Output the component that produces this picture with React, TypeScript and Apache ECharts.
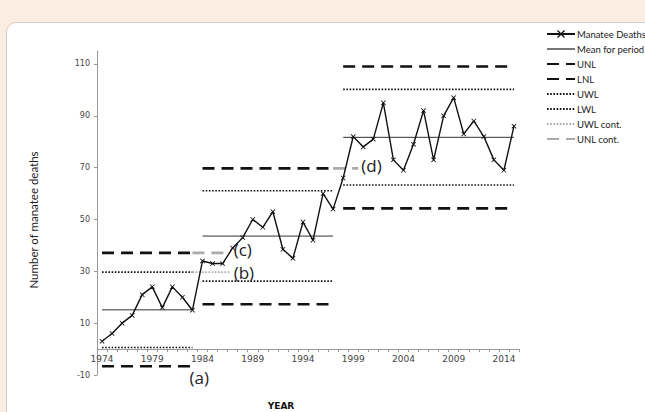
import React, { useEffect, useRef } from 'react';
import * as echarts from 'echarts';

const years = [
  '1974', '1975', '1976', '1977', '1978', '1979', '1980', '1981', '1982', '1983',
  '1984', '1985', '1986', '1987', '1988', '1989', '1990', '1991', '1992', '1993',
  '1994', '1995', '1996', '1997', '1998', '1999', '2000', '2001', '2002', '2003',
  '2004', '2005', '2006', '2007', '2008', '2009', '2010', '2011', '2012', '2013',
  '2014', '2015',
];
const deaths = [
  3, 6, 10, 13, 21, 24, 16, 24, 20, 15,
  34, 33, 33, 39, 43, 50, 47, 53, 38.5, 35, 49, 42, 60, 54,
  66, 82, 78, 81, 95, 73, 69, 79, 92, 73, 90, 97, 83, 88, 82, 73, 69, 86,
];
const periodStart = [1974, 1984, 1998];
const periodEnd = [1983, 1997, 2015];
const meanVals = [15.2, 43.6, 81.7];
const unlVals = [37.1, 69.7, 109];
const lnlVals = [-6.6, 17.3, 54.3];
const uwlVals = [29.7, 61.1, 100.2];
const lwlVals = [0.6, 26.2, 63.3];
const uwlContFrom = [1983];
const uwlContTo = [1986.8];
const uwlContVal = [29.7];
const uwlContTag = ['(b)'];
const unlContFrom = [1983, 1997];
const unlContTo = [1986.8, 1999.5];
const unlContVal = [37.1, 69.7];
const unlContTag = ['(c)', '(d)'];
const yMin = -10;
const yMax = 115;
const yTicks = [-10, 10, 30, 50, 70, 90, 110];
const legendNames = ['Manatee Deaths', 'Mean for period', 'UNL', 'LNL', 'UWL', 'LWL', 'UWL cont.', 'UNL cont.'];

const CROSS = 'path://M0,1.2L1.2,0L5,3.8L8.8,0L10,1.2L6.2,5L10,8.8L8.8,10L5,6.2L1.2,10L0,8.8L3.8,5Z';

const annoStyle = { color: '#222', fontSize: 17, lineHeight: 16, fontFamily: 'Open Sans' };

const GRID_TOP = 51;
const GRID_BOTTOM = 37;
const H = 412;

function seg(name: string, x0: number, x1: number, v: number, lineStyle: any, extra: any = {}) {
  return {
    name,
    type: 'line',
    xAxisIndex: 1,
    data: [[x0, v], [x1, v]],
    symbol: 'none',
    silent: true,
    z: 2,
    itemStyle: { color: 'rgba(0,0,0,0)', borderWidth: 0 },
    lineStyle,
    ...extra,
  };
}

export default function App() {
  const ref = useRef<HTMLDivElement>(null);
  useEffect(() => {
    if (!ref.current) return;
    const chart = echarts.init(ref.current, undefined, { renderer: 'svg' });
    const dashStyle = { color: '#111', width: 2.6, type: [12, 7] };
    const dotStyle = { color: '#111', width: 1.6, type: [1.6, 1.6] };
    const meanStyle = { color: '#333', width: 1 };
    const series: any[] = [];
    series.push({
      name: 'Manatee Deaths',
      type: 'line',
      xAxisIndex: 0,
      data: deaths,
      symbol: CROSS,
      symbolSize: 5,
      itemStyle: { color: '#111' },
      lineStyle: { color: '#111', width: 1.4 },
      z: 5,
    });
    for (let i = 0; i < 3; i++) {
      series.push(seg('Mean for period', periodStart[i], periodEnd[i], meanVals[i], i === 0 ? { color: '#777', width: 1.6 } : meanStyle));
      series.push(seg('UNL', periodStart[i], periodEnd[i], unlVals[i], dashStyle));
      series.push(
        seg('LNL', periodStart[i], periodEnd[i], lnlVals[i], dashStyle,
          i === 0 ? { endLabel: { show: true, formatter: '(a)', offset: [-11, 11], ...annoStyle } } : {})
      );
      series.push(seg('UWL', periodStart[i], periodEnd[i], uwlVals[i], dotStyle));
      series.push(seg('LWL', periodStart[i], periodEnd[i], lwlVals[i], dotStyle));
    }
    for (let i = 0; i < uwlContFrom.length; i++) {
      series.push(seg('UWL cont.', uwlContFrom[i], uwlContTo[i], uwlContVal[i], { color: '#aaa', width: 1.6, type: [1.6, 1.6] },
        { endLabel: { show: true, formatter: uwlContTag[i], distance: 3, offset: [0, 0], ...annoStyle } }));
    }
    for (let i = 0; i < unlContFrom.length; i++) {
      series.push(seg('UNL cont.', unlContFrom[i], unlContTo[i], unlContVal[i], { color: '#aaa', width: 2.6, type: [12, 7] },
        { endLabel: { show: true, formatter: unlContTag[i], distance: 3, offset: [0, -3], ...annoStyle } }));
    }
    // x axis sits on the zero line: shift it up from the grid bottom by the height of the [yMin, 0] band
    const plotH = H - GRID_TOP - GRID_BOTTOM;
    const zeroOffset = -(plotH * (0 - yMin)) / (yMax - yMin);
    chart.setOption({
      animation: false,
      backgroundColor: 'transparent',
      grid: { left: 97, right: 126, top: GRID_TOP, bottom: GRID_BOTTOM, containLabel: false },
      legend: {
        orient: 'vertical',
        left: 541,
        top: 24,
        itemWidth: 28,
        itemHeight: 10,
        itemGap: 5,
        selectedMode: false,
        data: legendNames,
        textStyle: { fontFamily: 'Lato', fontSize: 9.5, color: '#222', lineHeight: 10, padding: [0, 0, 0, -3] },
      },
      xAxis: [
        {
          type: 'category',
          data: years,
          boundaryGap: true,
          position: 'bottom',
          offset: zeroOffset,
          axisLine: { onZero: false, lineStyle: { color: '#999', width: 1 } },
          axisTick: { show: true, interval: 0, length: 3, lineStyle: { color: '#999' } },
          axisLabel: { interval: 4, margin: 5, fontSize: 9, fontFamily: 'DejaVu Sans', color: '#444' },
          splitLine: { show: false },
        },
        {
          type: 'value', min: 1973.5, max: 2015.5, show: false, position: 'top',
          axisLine: { onZero: false },
        },
      ],
      yAxis: {
        type: 'value',
        min: yMin,
        max: yMax,
        interval: 10,
        axisLine: { show: true, onZero: false, lineStyle: { color: '#999', width: 1 } },
        axisTick: { show: true, length: 3, customValues: yTicks, lineStyle: { color: '#999' } },
        axisLabel: { customValues: yTicks, margin: 7, fontSize: 8, fontFamily: 'DejaVu Sans', color: '#444' },
        splitLine: { show: false },
      },
      graphic: [
        {
          type: 'text',
          x: 281,
          y: 406,
          style: { text: 'YEAR', fontFamily: 'DejaVu Sans', fontWeight: 'bold', fontSize: 9, fill: '#111', align: 'center', verticalAlign: 'middle' },
        },
        {
          type: 'text',
          x: 33,
          y: 220,
          rotation: Math.PI / 2,
          style: { text: 'Number of manatee deaths', fontFamily: 'Lato', fontSize: 11.5, fill: '#222', align: 'center', verticalAlign: 'middle' },
        },
      ],
      series,
    });
    return () => chart.dispose();
  }, []);
  return (
    <div style={{ position: 'fixed', left: 0, top: 0, width: 645, height: 412, background: '#fcede3', overflow: 'hidden' }}>
      <div style={{ position: 'absolute', left: 6, top: 22, width: 660, height: 420, background: '#fff', border: '1px solid #dccbc0', borderTopLeftRadius: 10 }} />
      <div ref={ref} style={{ position: 'absolute', left: 0, top: 0, width: 645, height: 412 }} />
    </div>
  );
}
